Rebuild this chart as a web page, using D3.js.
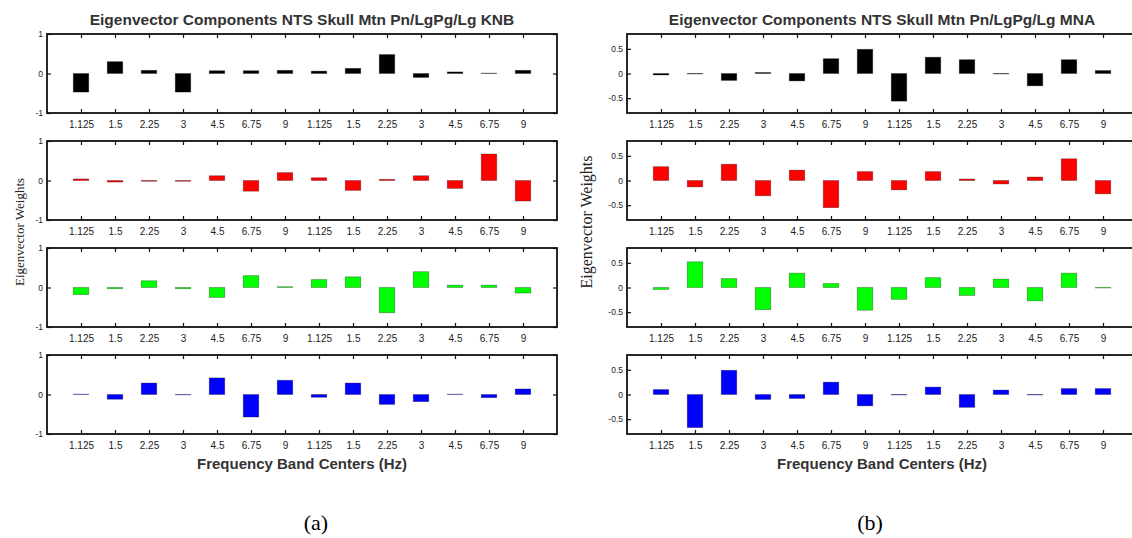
<!DOCTYPE html>
<html>
<head>
<meta charset="utf-8">
<script src="https://cdn.jsdelivr.net/npm/d3@7"></script>
<style>
  body { margin: 0; background: #fff; }
  svg { display: block; }
  .tick text { font-family: "Liberation Sans", Arial, sans-serif; fill: #222; }
</style>
</head>
<body>
<svg width="1132" height="538"></svg>
<script>
// frequency band centers, two groups of seven
const bandLabels = ["1.125", "1.5", "2.25", "3", "4.5", "6.75", "9",
                    "1.125", "1.5", "2.25", "3", "4.5", "6.75", "9"];

// KNB eigenvector weights (panel a)
const knbBlack = [-0.47, 0.30, 0.08, -0.47, 0.07, 0.07, 0.08, 0.06, 0.13, 0.48, -0.10, 0.04, 0.01, 0.08];
const knbRed   = [0.04, -0.04, -0.02, -0.02, 0.12, -0.27, 0.20, 0.07, -0.25, 0.03, 0.12, -0.20, 0.67, -0.52];
const knbGreen = [-0.18, -0.03, 0.17, -0.03, -0.25, 0.30, 0.02, 0.20, 0.27, -0.64, 0.40, 0.06, 0.06, -0.14];
const knbBlue  = [0.01, -0.12, 0.29, -0.01, 0.42, -0.57, 0.36, -0.07, 0.29, -0.25, -0.18, 0.01, -0.08, 0.14];

// MNA eigenvector weights (panel b)
const mnaBlack = [-0.03, -0.01, -0.14, 0.02, -0.15, 0.30, 0.49, -0.56, 0.33, 0.28, -0.01, -0.25, 0.28, 0.06];
const mnaRed   = [0.28, -0.13, 0.33, -0.31, 0.21, -0.55, 0.18, -0.19, 0.18, 0.03, -0.07, 0.07, 0.44, -0.27];
const mnaGreen = [-0.04, 0.52, 0.18, -0.45, 0.29, 0.08, -0.46, -0.24, 0.20, -0.16, 0.17, -0.27, 0.29, -0.01];
const mnaBlue  = [0.10, -0.67, 0.49, -0.10, -0.08, 0.25, -0.23, -0.01, 0.15, -0.26, 0.09, -0.01, 0.12, 0.12];

const rowColors = ["#000000", "#ff0000", "#00ff00", "#0000ff"];

const svg = d3.select("svg");

const rowTops = [34, 141, 248, 355];
const rowHeight = 79;

// matlab style labels use a plain hyphen for negatives
const plainNum = d => String(d).replace("\u2212", "-");

function drawPanel(cfg) {
  const g = svg.append("g");
  const x = d3.scaleLinear().domain([0, 15]).range([cfg.left, cfg.right]);
  const barW = 15.5;

  cfg.rows.forEach((vals, r) => {
    const top = rowTops[r];
    const y = d3.scaleLinear().domain(cfg.yDomain).range([top + rowHeight, top]);
    const row = g.append("g");

    row.selectAll("rect.bar")
      .data(vals)
      .enter()
      .append("rect")
      .attr("class", "bar")
      .attr("x", (d, i) => x(i + 1) - barW / 2)
      .attr("y", d => y(Math.max(0, d)))
      .attr("width", barW)
      .attr("height", d => Math.abs(y(d) - y(0)))
      .attr("fill", rowColors[r])
      .attr("stroke", "#000")
      .attr("stroke-opacity", 0.35)
      .attr("stroke-width", 0.8);

    const ticks = d3.range(1, 15);

    row.append("g")
      .attr("transform", "translate(0," + (top + rowHeight) + ")")
      .call(d3.axisBottom(x).tickValues(ticks).tickSize(-4).tickSizeOuter(0).tickPadding(8)
        .tickFormat((d, i) => bandLabels[i]))
      .call(a => a.selectAll("text").attr("font-size", 10));

    row.append("g")
      .attr("transform", "translate(0," + top + ")")
      .call(d3.axisTop(x).tickValues(ticks).tickSize(-4).tickSizeOuter(0).tickFormat(""));

    row.append("g")
      .attr("transform", "translate(" + cfg.left + ",0)")
      .call(d3.axisLeft(y).tickValues(cfg.yTicks).tickSize(-4).tickSizeOuter(0).tickPadding(4)
        .tickFormat(plainNum))
      .call(a => a.selectAll("text").attr("font-size", 8.5));

    row.append("g")
      .attr("transform", "translate(" + cfg.right + ",0)")
      .call(d3.axisRight(y).tickValues(cfg.yTicks).tickSize(-4).tickSizeOuter(0).tickFormat(""));

    row.selectAll(".domain").remove();
    row.selectAll(".tick line").attr("stroke", "#111").attr("stroke-width", 1.2);

    row.append("rect")
      .attr("x", cfg.left)
      .attr("y", top)
      .attr("width", cfg.right - cfg.left)
      .attr("height", rowHeight)
      .attr("fill", "none")
      .attr("stroke", "#111")
      .attr("stroke-width", 1.8);
  });

  const mid = (cfg.left + cfg.right) / 2;

  g.append("text")
    .attr("x", mid)
    .attr("y", 25)
    .attr("text-anchor", "middle")
    .attr("font-family", "Liberation Sans, Arial, sans-serif")
    .attr("font-weight", "bold")
    .attr("font-size", 15.5)
    .attr("fill", "#333")
    .text(cfg.title);

  g.append("text")
    .attr("x", mid)
    .attr("y", 469)
    .attr("text-anchor", "middle")
    .attr("font-family", "Liberation Sans, Arial, sans-serif")
    .attr("font-weight", "bold")
    .attr("font-size", 15)
    .attr("fill", "#333")
    .text("Frequency Band Centers (Hz)");

  g.append("text")
    .attr("transform", "translate(" + cfg.ylabelX + "," + cfg.ylabelY + ") rotate(-90)")
    .attr("text-anchor", "middle")
    .attr("font-family", "Liberation Serif, serif")
    .attr("font-size", cfg.ylabelSize)
    .attr("fill", "#222")
    .text("Eigenvector Weights");

  g.append("text")
    .attr("x", cfg.capX)
    .attr("y", 530)
    .attr("text-anchor", "middle")
    .attr("font-family", "Liberation Serif, serif")
    .attr("font-size", 22)
    .attr("fill", "#000")
    .text(cfg.caption);
}

drawPanel({
  left: 47, right: 557,
  rows: [knbBlack, knbRed, knbGreen, knbBlue],
  yDomain: [-1, 1], yTicks: [-1, 0, 1],
  title: "Eigenvector Components NTS Skull Mtn Pn/LgPg/Lg KNB",
  ylabelX: 24, ylabelY: 232, ylabelSize: 13, capX: 316, caption: "(a)"
});

drawPanel({
  left: 627, right: 1137,
  rows: [mnaBlack, mnaRed, mnaGreen, mnaBlue],
  yDomain: [-0.8, 0.8], yTicks: [-0.5, 0, 0.5],
  title: "Eigenvector Components NTS Skull Mtn Pn/LgPg/Lg MNA",
  ylabelX: 592, ylabelY: 222, ylabelSize: 16, capX: 870, caption: "(b)"
});
</script>
</body>
</html>
